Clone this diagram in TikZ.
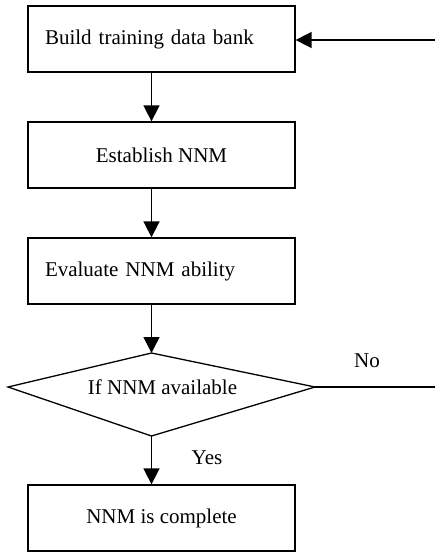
\documentclass[tikz,border=0pt]{standalone}
\usepackage{fontspec}
\setmainfont{Liberation Serif}
\usetikzlibrary{arrows.meta, positioning, calc}

\begin{document}
\begin{tikzpicture}[
    x=1pt, y=-1pt,
    >={Triangle[length=16pt, width=16pt]},
    font=\fontsize{21}{25}\selectfont,
    stepbox/.style={
        draw=black,
        line width=1.3pt,
        minimum width=267pt,
        minimum height=66pt,
        inner sep=0pt,
        align=center
    },
    leftbox/.style={
        stepbox,
        align=left,
        text width=233pt
    },
    flow/.style={->, line width=1.6pt},
    link/.style={line width=1.3pt},
    label/.style={inner sep=0pt}
]
\useasboundingbox (0,0) rectangle (435,554);

\node[leftbox] (build) at (161.5,39)
{Build training data bank};

\node[stepbox] (establish) at (161.5,155)
{Establish NNM};

\node[leftbox] (evaluate) at (161.5,271)
{Evaluate NNM ability};

% decision
\coordinate (cond_top) at (151.5,353);
\coordinate (cond_right) at (315,387);
\coordinate (cond_bot) at (151.5,436);
\coordinate (cond_left) at (8,387);
\draw[link] (cond_top) -- (cond_right) -- (cond_bot) -- (cond_left) -- cycle;
\node[label] (cond) at (162.5,387) {If NNM available};

\node[stepbox] (done) at (161.5,518)
{NNM is complete};

\draw[flow] ([xshift=-10pt]build.south) -- ([xshift=-10pt]establish.north);
\draw[flow] ([xshift=-10pt]establish.south) -- ([xshift=-10pt]evaluate.north);
\draw[flow] ([xshift=-10pt]evaluate.south) -- (cond_top);
\draw[flow] (cond_bot) -- ([xshift=-10pt]done.north);

% loop back, cut at the border
\coordinate (loop_out) at (435,387);
\coordinate (loop_in) at (435,40);
\draw[link] (cond_right) -- (loop_out);
\draw[flow] (loop_in) -- (loop_in -| build.east);

\node[label] (no) at (367,361) {No};
\node[label] (yes) at (207,458) {Yes};

\end{tikzpicture}
\end{document}
